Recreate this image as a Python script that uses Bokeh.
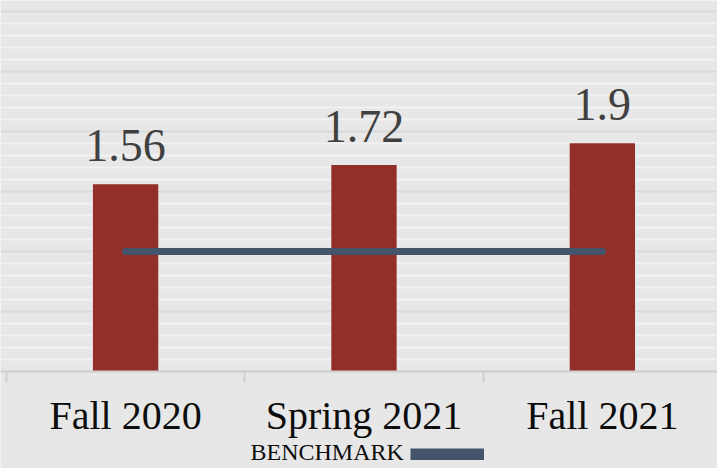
import numpy as np
from bokeh.plotting import figure
from bokeh.models import (ColumnDataSource, Range1d, FixedTicker, LabelSet, Label, Legend,
                          LegendItem, CDSView, IndexFilter, Grid)
from bokeh.core.properties import value
from bokeh.embed import file_html
from bokeh.resources import INLINE

# ---- data ----
terms = ["Fall 2020", "Spring 2021", "Fall 2021"]
scores = [1.56, 1.72, 1.9]
score_labels = ["1.56", "1.72", "1.9"]
benchmark = [1.0, 1.0, 1.0]
legend_label = "BENCHMARK"

# ---- styles ----
BG = "#e7e7e7"
BAR = "#912f28"
BENCH = "#44546a"
FONT = "Liberation Serif"

pos = [i + 0.5 for i in range(len(terms))]
bounds = list(range(len(terms) + 1))
src = ColumnDataSource(dict(x=pos, score=scores, bench=benchmark, label=score_labels))

p = figure(width=717, height=468,
           x_range=Range1d(-0.0248, 2.983), y_range=Range1d(-0.808, 3.09),
           output_backend="svg", toolbar_location=None, y_axis_location=None,
           min_border_left=0, min_border_right=0, min_border_top=0, min_border_bottom=0,
           background_fill_color=BG, border_fill_color=BG, outline_line_color=None)

p.xgrid.visible = False

major = [float(v) for v in np.round(np.arange(0, 3.001, 0.5), 2)]
minor = [float(v) for v in np.round(np.arange(0.1, 3.001, 0.1), 2) if round(v * 10) % 5 != 0]
grid = Grid(dimension=1, ticker=FixedTicker(ticks=major, minor_ticks=minor),
            grid_line_color="#d9d9d9", grid_line_width=2,
            minor_grid_line_color="#f2f2f2", minor_grid_line_width=2)
p.add_layout(grid)

p.vbar(x="x", top="score", width=0.274, source=src, fill_color=BAR, line_color=None)
p.line("x", "bench", source=src, line_width=7, line_color=BENCH, line_cap="round")
# legend proxy: single-point line (draws nothing in the plot, 12px swatch in legend)
proxy = p.line("x", "bench", source=src, line_width=12, line_color=BENCH, line_cap="butt",
               view=CDSView(filter=IndexFilter(indices=[0])))

labels = LabelSet(x="x", y="score", text="label", source=src, y_offset=23,
                  text_align="center", text_baseline="alphabetic",
                  text_font=value(FONT), text_font_size=value("46px"),
                  text_color="#404040")
p.add_layout(labels)

ax = p.xaxis[0]
ax.fixed_location = 0
ax.ticker = FixedTicker(ticks=pos, minor_ticks=bounds)
ax.major_label_overrides = {x: t for x, t in zip(pos, terms)}
ax.major_tick_out = 0
ax.major_tick_in = 0
ax.minor_tick_out = 11
ax.minor_tick_in = 0
ax.minor_tick_line_color = "#d0d0d0"
ax.minor_tick_line_width = 2
ax.axis_line_color = "#d0d0d0"
ax.axis_line_width = 2
ax.major_label_standoff = 11
ax.major_label_text_font = FONT
ax.major_label_text_font_size = "40px"
ax.major_label_text_color = "#0d0d0d"

# legend: label text first, swatch after (as in the reference)
p.add_layout(Label(x=250, y=17, x_units="screen", y_units="screen", text=legend_label,
                   text_font=FONT, text_font_size="24px", text_color="#0d0d0d",
                   text_baseline="alphabetic", text_align="left"))
legend = Legend(items=[LegendItem(label="", renderers=[proxy])],
                location=(410, 8), glyph_width=74, glyph_height=12,
                label_standoff=0, label_text_font_size="10px",
                padding=0, margin=0, spacing=0, border_line_color=None,
                background_fill_alpha=0)
p.add_layout(legend)

open("out.html", "w").write(file_html(p, INLINE))
